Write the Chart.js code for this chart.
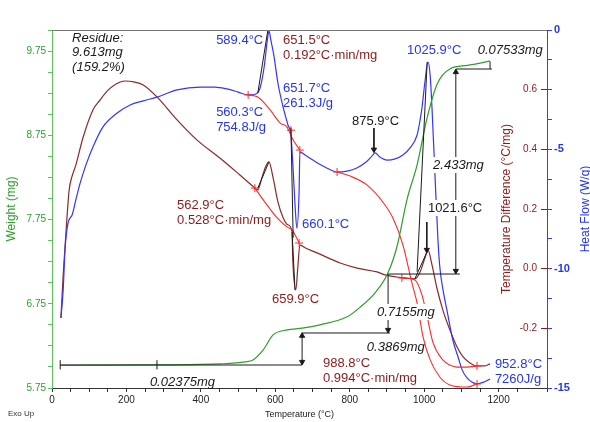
<!DOCTYPE html>
<html>
<head>
<meta charset="utf-8">
<script src="https://cdn.jsdelivr.net/npm/chart.js@4.4.1/dist/chart.umd.min.js"></script>
<style>
  html, body { margin: 0; padding: 0; background: #fff; }
  #wrap { width: 590px; height: 422px; }
</style>
</head>
<body>
<div id="wrap"><canvas id="tga" width="590" height="422"></canvas></div>
<script>
// weight (mg)
const weightT  = [22, 290, 452, 519, 540, 567, 594, 632, 672, 720, 793, 828, 868, 901, 927, 954, 981, 1008, 1035, 1070, 1116, 1177];
const weightMg = [6.02, 6.024, 6.036, 6.06, 6.083, 6.20, 6.38, 6.44, 6.46, 6.50, 6.595, 6.71, 6.88, 7.10, 7.43, 7.99, 8.40, 8.96, 9.36, 9.54, 9.58, 9.63];

// temperature difference (°C/mg)
const dtaT = [24, 30, 38, 46, 54, 64, 83, 110, 129, 148, 172, 196, 220, 245, 282, 336, 390, 451, 505, 545,
  553, 564, 575, 583, 594, 607, 621, 634, 645, 647, 655, 661, 666, 680, 712, 774, 820, 873, 895, 927,
  975, 989, 1002, 1010, 1021, 1034, 1050, 1069, 1088, 1104, 1123, 1142, 1161, 1177];
const dtaVal = [-0.165, -0.021, 0.13, 0.263, 0.31, 0.347, 0.438, 0.532, 0.565, 0.595, 0.619, 0.629, 0.626, 0.616, 0.576, 0.499, 0.431, 0.371, 0.314, 0.271,
  0.264, 0.305, 0.345, 0.358, 0.305, 0.224, 0.171, 0.147, 0.124, 0.03, -0.071, 0.013, 0.08, 0.07, 0.053, 0.019, 0.002, -0.011, -0.021, -0.028,
  -0.034, -0.011, 0.036, 0.063, 0.013, -0.064, -0.138, -0.205, -0.262, -0.295, -0.316, -0.326, -0.326, -0.319];

// heat flow (W/g)
const hfT = [24, 30, 35, 43, 54, 64, 75, 91, 110, 137, 175, 210, 245, 282, 336, 398, 438, 470, 500, 527,
  548, 559, 570, 578, 583, 588, 596, 607, 621, 634, 642, 648, 653, 658, 664, 666, 680, 701, 733, 766,
  793, 819, 844, 862, 868, 881, 900, 922, 943, 962, 981, 989, 994, 1002, 1010, 1016, 1021, 1029, 1037, 1042,
  1053, 1061, 1077, 1091, 1102, 1115, 1128, 1142, 1161, 1177];
const hfVal = [-12.07, -10.9, -9.2, -8.09, -7.75, -7.12, -6.45, -5.66, -4.9, -4.06, -3.48, -3.14, -2.97, -2.81, -2.51, -2.39, -2.39, -2.47, -2.6, -2.72,
  -2.68, -2.43, -1.55, -0.5, -0.04, -0.42, -1.05, -2.22, -3.23, -3.98, -4.4, -5.87, -7.33, -8.3, -6.7, -5.11, -5.24, -5.45, -5.74, -5.95,
  -5.91, -5.78, -5.53, -5.24, -5.15, -5.32, -5.45, -5.4, -5.24, -4.94, -4.4, -3.77, -3.27, -2.18, -1.34, -1.89, -3.27, -6.07, -8.8, -9.93,
  -11.1, -11.73, -12.99, -13.7, -14.24, -14.58, -14.75, -14.83, -14.75, -14.62];

// analysis baselines (red)
const hfBase1T = [527, 553, 586, 613, 631, 648, 666];
const hfBase1Val = [-2.72, -2.81, -3.35, -3.9, -4.06, -4.61, -5.03];
const hfBase2T = [766, 801, 846, 889, 916, 943, 956, 967, 981, 997, 1016, 1042, 1069, 1115, 1142];
const hfBase2Val = [-5.95, -6.12, -6.49, -7.21, -7.88, -9.01, -9.85, -10.6, -11.44, -12.86, -13.82, -14.54, -14.87, -14.96, -14.83];
const dtaBase1T = [545, 578, 605, 631, 645, 664];
const dtaBase1Val = [0.27, 0.213, 0.17, 0.14, 0.13, 0.086];
const dtaBase2T = [940, 975, 994, 1008, 1024, 1050, 1069, 1088, 1115, 1142];
const dtaBase2Val = [-0.031, -0.038, -0.088, -0.162, -0.249, -0.306, -0.323, -0.33, -0.33, -0.326];

// red limit marks
const hfMarks = [[527, -2.72], [642, -4.2], [666, -5.03], [766, -5.95], [1142, -14.83]];
const dtaMarks = [[545, 0.27], [664, 0.086], [940, -0.031], [1142, -0.326]];

// black tangents [t1, v1, t2, v2]
const hfTangents = [[553, -2.64, 580, 0], [981, -10.13, 1008, -1.34], [642, -4.1, 648, -8.71]];
const dtaTangents = [[553, 0.27, 583, 0.358], [645, 0.123, 653, -0.072], [975, -0.034, 1010, 0.063]];

// weight step lines [t1, w1, t2, w2]
const weightSteps = [
  [22, 6.023, 672, 6.023], [22, 5.97, 22, 6.08], [282, 5.97, 282, 6.08],
  [672, 6.023, 672, 6.403], [672, 6.403, 908, 6.403],
  [903, 6.403, 903, 7.103], [903, 7.103, 1096, 7.103],
  [1085, 7.103, 1085, 9.537], [1085, 9.537, 1182, 9.537],
  [1177, 9.537, 1177, 9.625],
  [1007, 7.72, 1007, 7.36], [865, 8.836, 865, 8.551]
];
const arrowsDown = [[865, 8.58], [1007, 7.39], [1085, 7.14], [903, 6.44], [672, 6.06]];
const arrowsUp = [[1085, 9.50], [672, 6.37]];

// tick labels
const xTickLabels = [0, 200, 400, 600, 800, 1000, 1200];
const weightTickLabels = [5.75, 6.75, 7.75, 8.75, 9.75];
const dtaTickLabels = [-0.2, 0.0, 0.2, 0.4, 0.6];
const hfTickLabels = [-15, -10, -5, 0];

const FONT = '"Liberation Sans", Arial, sans-serif';
Chart.defaults.font.family = FONT;

const GREEN = '#2e9e2e', BROWN = '#8a2a2a', DRED = '#8b1a1a', BLUE = '#3434ff', RED = '#ff2a2a', INK = '#1a1a1a';
const COLORS = { black: INK, blue: '#2436f0', dred: DRED };

const notes = [
  { t: 54, w: 9.905, text: ['Residue:', '9.613mg', '(159.2%)'], c: 'black', it: true, lh: 14.5 },
  { t: 441, w: 9.881, text: ['589.4°C'], c: 'blue' },
  { t: 621, w: 9.881, text: ['651.5°C', '0.192°C·min/mg'], c: 'dred' },
  { t: 621, w: 9.311, text: ['651.7°C', '261.3J/g'], c: 'blue' },
  { t: 441, w: 9.026, text: ['560.3°C', '754.8J/g'], c: 'blue' },
  { t: 806, w: 8.92, text: ['875.9°C'], c: 'black' },
  { t: 954, w: 9.762, text: ['1025.9°C'], c: 'blue' },
  { t: 1144, w: 9.762, text: ['0.07533mg'], c: 'black', it: true },
  { t: 1024, w: 8.397, text: ['2.433mg'], c: 'black', it: true, bg: true },
  { t: 1010, w: 7.887, text: ['1021.6°C'], c: 'black', bg: true },
  { t: 336, w: 7.922, text: ['562.9°C', '0.528°C·min/mg'], c: 'dred' },
  { t: 672, w: 7.697, text: ['660.1°C'], c: 'blue' },
  { t: 591, w: 6.806, text: ['659.9°C'], c: 'dred' },
  { t: 873, w: 6.652, text: ['0.7155mg'], c: 'black', it: true, bg: true },
  { t: 846, w: 6.237, text: ['0.3869mg'], c: 'black', it: true },
  { t: 728, w: 6.047, text: ['988.8°C', '0.994°C·min/mg'], c: 'dred' },
  { t: 263, w: 5.821, text: ['0.02375mg'], c: 'black', it: true },
  { t: 1190, w: 6.035, text: ['952.8°C', '7260J/g'], c: 'blue' }
];

const xy = (ts, vs) => ts.map((t, i) => ({ x: t, y: vs[i] }));
const near = (list, v) => list.some(l => Math.abs(l - v) < 1e-6);

const curve = (data, axis, color, w) => ({
  data, yAxisID: axis, borderColor: color, borderWidth: w || 1.2,
  pointRadius: 0, cubicInterpolationMode: 'monotone', fill: false
});
const segs = (list, axis, color) => list.map(s => ({
  data: [{ x: s[0], y: s[1] }, { x: s[2], y: s[3] }], yAxisID: axis,
  borderColor: color, borderWidth: 1, pointRadius: 0, tension: 0, fill: false
}));
const pts = (list, axis, style, rot, color, r) => ({
  data: list.map(p => ({ x: p[0], y: p[1] })), yAxisID: axis, showLine: false,
  pointStyle: style, rotation: rot, pointRadius: r, borderColor: color,
  backgroundColor: color, borderWidth: 1
});

const datasets = [
  ...segs(weightSteps, 'yW', INK),
  pts(arrowsDown, 'yW', 'triangle', 180, INK, 3),
  pts(arrowsUp, 'yW', 'triangle', 0, INK, 3),
  ...segs(hfTangents, 'yH', INK),
  ...segs(dtaTangents, 'yD', INK),
  pts(hfMarks, 'yH', 'cross', 0, RED, 4),
  pts(dtaMarks, 'yD', 'cross', 0, RED, 4),
  curve(xy(hfBase1T, hfBase1Val), 'yH', RED, 1.1),
  curve(xy(hfBase2T, hfBase2Val), 'yH', RED, 1.1),
  curve(xy(dtaBase1T, dtaBase1Val), 'yD', RED, 1.1),
  curve(xy(dtaBase2T, dtaBase2Val), 'yD', RED, 1.1),
  curve(xy(weightT, weightMg), 'yW', GREEN),
  curve(xy(hfT, hfVal), 'yH', BLUE),
  curve(xy(dtaT, dtaVal), 'yD', BROWN)
];

const notesPlugin = {
  id: 'notes',
  afterDraw(chart) {
    const { ctx, chartArea: a, scales } = chart;
    ctx.save();
    ctx.strokeStyle = '#777';
    ctx.lineWidth = 1;
    ctx.beginPath();
    ctx.moveTo(a.left, a.top + 0.5);
    ctx.lineTo(a.right, a.top + 0.5);
    ctx.stroke();

    ctx.textBaseline = 'middle';
    ctx.textAlign = 'left';
    notes.forEach(n => {
      ctx.font = (n.it ? 'italic ' : '') + '13px ' + FONT;
      const px = scales.x.getPixelForValue(n.t);
      const py = scales.yW.getPixelForValue(n.w);
      n.text.forEach((s, i) => {
        const yy = py + i * (n.lh || 15);
        if (n.bg) {
          ctx.fillStyle = '#fff';
          ctx.fillRect(px - 2, yy - 8, ctx.measureText(s).width + 4, 16);
        }
        ctx.fillStyle = COLORS[n.c];
        ctx.fillText(s, px, yy);
      });
    });

    const cy = (a.top + a.bottom) / 2;
    const side = (txt, x, color) => {
      ctx.save();
      ctx.translate(x, cy);
      ctx.rotate(-Math.PI / 2);
      ctx.textAlign = 'center';
      ctx.font = '12px ' + FONT;
      ctx.fillStyle = color;
      ctx.fillText(txt, 0, 0);
      ctx.restore();
    };
    side('Temperature Difference (°C/mg)', a.right - 40, DRED);
    side('Heat Flow (W/g)', a.right + 39, '#2436f0');

    ctx.font = '8px ' + FONT;
    ctx.fillStyle = '#333';
    ctx.fillText('Exo Up', 8, 414);
    ctx.restore();
  }
};

new Chart(document.getElementById('tga'), {
  type: 'line',
  data: { datasets },
  plugins: [notesPlugin],
  options: {
    responsive: false,
    animation: false,
    layout: { padding: { top: 30, right: 0, bottom: 0, left: 0 } },
    plugins: { legend: { display: false }, tooltip: { enabled: false } },
    scales: {
      x: {
        type: 'linear', min: 0, max: 1330,
        afterFit: s => { s.height = 34; },
        border: { color: '#333' },
        grid: { drawOnChartArea: false, tickLength: 4, color: '#333' },
        ticks: {
          stepSize: 50, padding: 2, color: '#222', font: { size: 10 }, maxRotation: 0, autoSkip: false,
          callback: v => near(xTickLabels, v) ? String(v) : ''
        },
        title: { display: true, text: 'Temperature (°C)', color: '#222', font: { size: 9 }, padding: { top: 2, bottom: 2 } }
      },
      yW: {
        type: 'linear', position: 'left', min: 5.75, max: 10.0,
        afterFit: s => { s.width = 52; },
        border: { color: '#5cc05c' },
        grid: { drawOnChartArea: false, tickLength: 4, color: '#5cc05c' },
        ticks: {
          stepSize: 0.25, padding: 2, color: GREEN, font: { size: 10 }, autoSkip: false,
          callback: v => near(weightTickLabels, v) ? v.toFixed(2) : ''
        },
        title: { display: true, text: 'Weight (mg)', color: GREEN, font: { size: 12 }, padding: { top: 4, bottom: 4 } }
      },
      yD: {
        type: 'linear', position: 'right', weight: 0, min: -0.4, max: 0.8,
        afterFit: s => { s.width = 0; },
        border: { display: false },
        grid: {
          drawOnChartArea: false, tickLength: -6,
          color: ctx => near(dtaTickLabels, ctx.tick.value) ? DRED : 'rgba(0,0,0,0)'
        },
        ticks: {
          mirror: true, padding: -10, stepSize: 0.2, color: DRED, font: { size: 10 }, autoSkip: false,
          callback: v => near(dtaTickLabels, v) ? v.toFixed(1) : ''
        }
      },
      yH: {
        type: 'linear', position: 'right', weight: 1, min: -15, max: 0,
        afterFit: s => { s.width = 43; },
        border: { color: '#3a3aff' },
        grid: { drawOnChartArea: false, tickLength: 5, color: '#3a3aff' },
        ticks: {
          stepSize: 1.25, padding: 2, color: '#2436f0', font: { size: 11, weight: 'bold' }, autoSkip: false,
          callback: v => near(hfTickLabels, v) ? String(v) : ''
        }
      }
    }
  }
});
</script>
</body>
</html>
